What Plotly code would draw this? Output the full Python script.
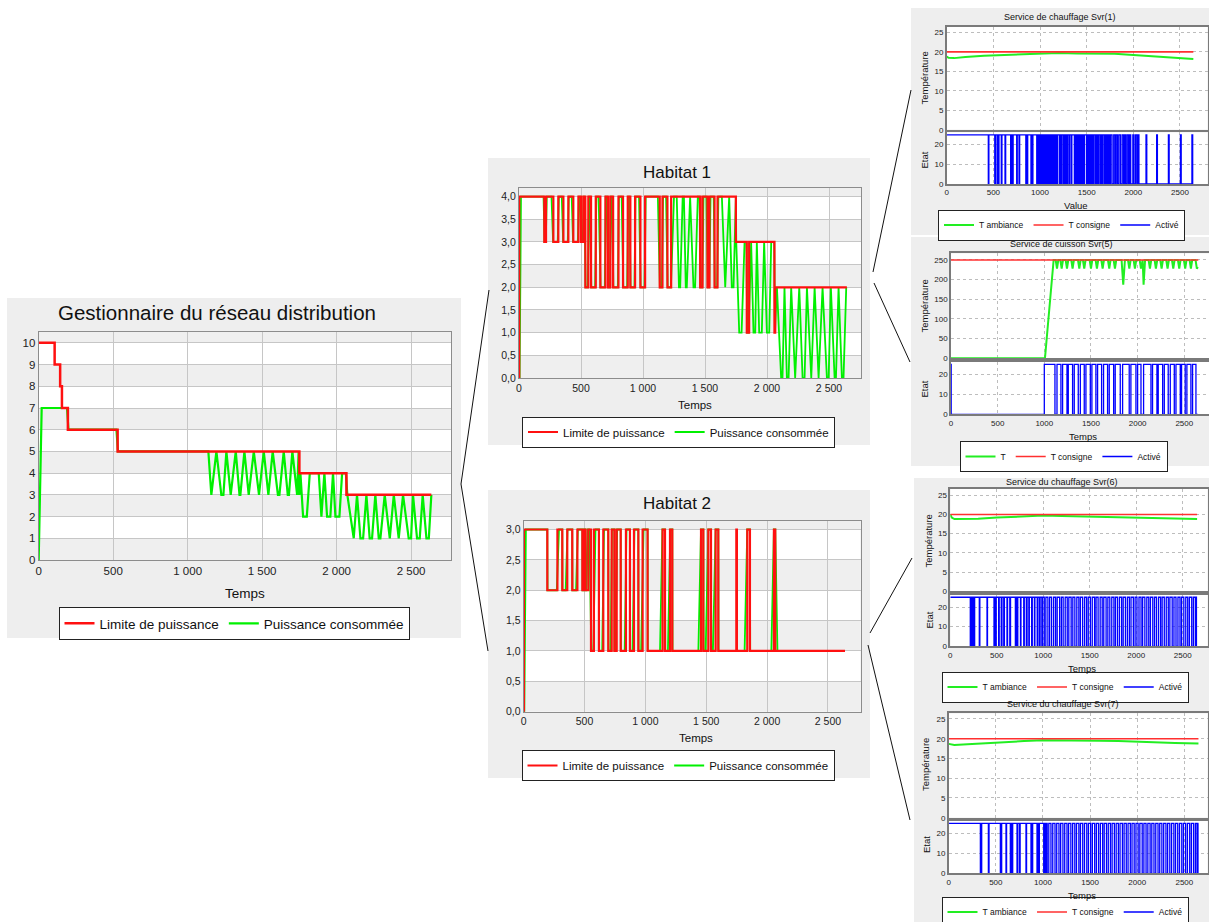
import plotly.graph_objects as go

W, H = 1209, 922
FONT = "Arial, 'Liberation Sans', sans-serif"
RED = "#ff1010"
GREEN = "#00f000"
BLUE = "#0000ff"
SRED = "#ff3030"
SGREEN = "#22ee22"

# ------------------------------------------------------------------ data
# Gestionnaire du réseau distribution
main_lim_t = [0, 107, 144, 156, 196, 530, 1750, 2066, 2636]
main_lim_v = [10, 9, 8, 7, 6, 5, 4, 3, 3]
main_cons = [(0, 0), (20, 7), (190, 7), (200, 6), (522, 6), (532, 5), (1139, 5), (1159, 3), (1193, 5),
             (1226, 3), (1240, 3), (1260, 5), (1289, 3), (1323, 5), (1348, 3), (1354, 3), (1381, 5),
             (1410, 3), (1444, 5), (1479, 3), (1511, 5), (1542, 3), (1571, 5), (1606, 3), (1616, 3),
             (1645, 5), (1672, 3), (1680, 3), (1703, 5), (1735, 3), (1745, 5), (1750, 3), (1757, 4),
             (1775, 2), (1800, 2), (1820, 4), (1880, 4), (1898, 2), (1918, 4), (1936, 2), (1958, 2),
             (1976, 4), (1992, 2), (2019, 2), (2037, 4), (2062, 4), (2072, 3), (2115, 1), (2137, 3),
             (2160, 1), (2178, 1), (2200, 3), (2222, 1), (2238, 1), (2260, 3), (2283, 1), (2294, 1),
             (2323, 3), (2357, 1), (2384, 3), (2417, 1), (2446, 3), (2484, 1), (2500, 1), (2513, 3),
             (2540, 1), (2558, 1), (2578, 3), (2603, 1), (2619, 1), (2636, 3)]

# Habitat 1
h1_lim = [(0, 0), (2, 4), (204, 3), (218, 4), (277, 3), (317, 4), (358, 3), (398, 4), (438, 3), (479, 4),
          (500, 3), (519, 4), (535, 2), (559, 4), (581, 2), (619, 4), (656, 2), (697, 4), (718, 2), (737, 4),
          (759, 2), (802, 4), (839, 2), (877, 4), (898, 2), (936, 4), (979, 2), (1017, 4), (1135, 2),
          (1157, 4), (1197, 2), (1227, 4), (1461, 2), (1480, 4), (1520, 2), (1536, 4), (1577, 2), (1601, 4),
          (1749, 3), (1837, 1), (1856, 3), (2060, 1), (2066, 2), (2644, 2)]
h1_cons = [(0, 0), (5, 0), (16, 4), (198, 4), (206, 3), (216, 3), (224, 4), (262, 4), (275, 3), (312, 3),
           (322, 4), (345, 4), (356, 3), (393, 3), (402, 4), (425, 4), (436, 3), (474, 3), (484, 4), (494, 4),
           (500, 3), (514, 3), (522, 4), (528, 4), (537, 2), (555, 2), (565, 4), (572, 4), (583, 2), (614, 2),
           (624, 4), (642, 4), (658, 2), (692, 2), (700, 4), (710, 4), (720, 2), (733, 2), (741, 4), (750, 4),
           (761, 2), (797, 2), (806, 4), (828, 4), (841, 2), (872, 2), (881, 4), (890, 4), (900, 2), (931, 2),
           (940, 4), (968, 4), (981, 2), (1012, 2), (1022, 4), (1120, 4), (1136, 2), (1152, 2), (1162, 4),
           (1186, 4), (1199, 2), (1225, 2), (1250, 4), (1272, 4), (1290, 2), (1300, 2), (1320, 4), (1330, 4),
           (1345, 2), (1353, 2), (1380, 4), (1407, 2), (1420, 2), (1442, 4), (1456, 4), (1464, 2), (1478, 2),
           (1488, 4), (1512, 4), (1522, 2), (1534, 2), (1545, 4), (1570, 4), (1579, 2), (1598, 2), (1608, 4),
           (1636, 4), (1663, 2), (1695, 4), (1716, 2), (1730, 2), (1749, 4), (1752, 3), (1776, 1), (1795, 1),
           (1819, 3), (1834, 3), (1840, 1), (1852, 1), (1872, 3), (1891, 1), (1905, 1), (1918, 3), (1937, 1),
           (1958, 1), (1977, 3), (1999, 1), (2018, 1), (2034, 3), (2058, 3), (2064, 1), (2080, 2), (2114, 0),
           (2125, 0), (2141, 2), (2160, 0), (2174, 0), (2195, 2), (2227, 0), (2260, 2), (2287, 0), (2303, 0),
           (2322, 2), (2357, 0), (2384, 2), (2416, 0), (2448, 2), (2483, 0), (2497, 0), (2515, 2), (2545, 0),
           (2556, 0), (2577, 2), (2604, 0), (2617, 0), (2639, 2)]

# Habitat 2
h2_lim = [(0, 0), (2, 3), (194, 2), (277, 3), (317, 2), (358, 3), (399, 2), (441, 3), (482, 2), (496, 3),
          (509, 2), (531, 3), (553, 1), (577, 3), (618, 1), (654, 3), (695, 1), (723, 3), (745, 1), (764, 3),
          (797, 1), (840, 3), (873, 1), (906, 3), (942, 1), (977, 3), (1018, 1), (1141, 3), (1161, 1),
          (1202, 3), (1221, 1), (1457, 3), (1476, 1), (1517, 3), (1539, 1), (1577, 3), (1599, 1), (1747, 3),
          (1752, 1), (1837, 3), (1859, 1), (2056, 3), (2067, 1), (2640, 1)]
h2_cons = [(0, 0), (5, 0), (18, 3), (194, 3), (196, 2), (272, 2), (290, 3), (317, 3), (319, 2), (345, 2),
           (360, 3), (399, 3), (401, 2), (430, 2), (445, 3), (482, 3), (484, 2), (492, 2), (497, 3), (507, 3),
           (509, 2), (515, 2), (528, 3), (540, 3), (555, 1), (572, 1), (590, 3), (618, 3), (620, 1), (645, 1),
           (660, 3), (695, 3), (697, 1), (715, 1), (725, 3), (745, 3), (747, 1), (755, 1), (768, 3), (797, 3),
           (799, 1), (830, 1), (845, 3), (873, 3), (875, 1), (895, 1), (910, 3), (942, 3), (944, 1), (965, 1),
           (985, 3), (1018, 3), (1020, 1), (1120, 1), (1140, 3), (1161, 3), (1163, 1), (1185, 1), (1205, 3),
           (1221, 3), (1223, 1), (1435, 1), (1457, 3), (1476, 3), (1478, 1), (1495, 1), (1517, 3), (1539, 3),
           (1541, 1), (1555, 1), (1577, 3), (1599, 3), (1601, 1), (1815, 1), (1837, 3), (1859, 3), (1861, 1),
           (2035, 1), (2056, 3), (2067, 3), (2085, 1), (2640, 1)]

# Services (side panels)
svr1_temp_t = [0, 20, 80, 200, 400, 600, 800, 1000, 1200, 1400, 1600, 1800, 2000, 2200, 2400, 2643]
svr1_temp_v = [18.8, 18.5, 18.4, 18.7, 19.0, 19.2, 19.4, 19.6, 19.7, 19.6, 19.6, 19.5, 19.2, 18.9, 18.6, 18.2]
svr1_cons_t = [0, 2643]
svr1_cons_v = [20, 20]
svr1_act_start = 25
svr1_act_end = 2643
svr1_act_switch = [446, 452, 515, 522, 540, 546, 555, 560, 585, 592, 625, 632, 685, 692, 705, 712, 750, 756,
                   775, 782, 848, 855, 862, 868, 903, 910, 918, 924,
                   965, 975, 985, 995, 1005, 1015, 1026, 1036, 1046, 1056, 1067, 1077, 1087, 1097, 1108, 1118,
                   1128, 1138, 1149, 1159, 1169, 1179, 1183, 1190,
                   1210, 1216, 1230, 1236, 1252, 1258, 1270, 1276, 1290, 1296, 1312, 1318, 1335, 1341, 1368, 1374,
                   1385, 1391, 1400, 1406, 1418, 1424, 1435, 1441, 1452, 1458, 1470, 1476, 1498, 1504, 1515, 1521,
                   1535, 1541, 1552, 1558, 1568, 1574, 1590, 1596, 1610, 1616, 1628, 1634, 1650, 1656, 1668, 1674,
                   1690, 1696, 1710, 1716, 1730, 1736, 1750, 1756,
                   1772, 1790, 1805, 1815, 1830, 1845, 1862, 1880, 1895, 1908, 1920, 1935, 1950, 1960, 1972,
                   1995, 2008, 2025, 2040, 2052, 2060, 2136, 2144, 2250, 2258, 2376, 2384, 2505, 2513, 2628, 2636]

svr5_temp = [(0, 0), (1007, 0), (1100, 250), (1122, 250), (1136, 228), (1150, 250), (1172, 250), (1186, 228),
             (1200, 250), (1229, 250), (1243, 228), (1257, 250), (1289, 250), (1303, 228), (1317, 250),
             (1361, 250), (1375, 228), (1389, 250), (1414, 250), (1428, 228), (1442, 250), (1486, 250),
             (1500, 228), (1514, 250), (1550, 250), (1564, 228), (1578, 250), (1611, 250), (1625, 228),
             (1639, 250), (1682, 250), (1696, 228), (1710, 250), (1743, 250), (1757, 228), (1771, 250),
             (1828, 250), (1846, 187), (1864, 250), (1897, 250), (1911, 228), (1925, 250), (1957, 250),
             (1971, 228), (1985, 250), (2022, 250), (2036, 228), (2048, 250), (2054, 250), (2064, 187),
             (2080, 250), (2118, 250), (2132, 228), (2146, 250), (2182, 250), (2196, 228), (2210, 250),
             (2243, 250), (2257, 228), (2271, 250), (2307, 250), (2321, 228), (2335, 250), (2368, 250),
             (2382, 228), (2396, 250), (2432, 250), (2446, 228), (2460, 250), (2496, 250), (2510, 228),
             (2524, 250), (2557, 250), (2571, 228), (2585, 250), (2621, 250), (2635, 228), (2645, 232)]
svr5_cons_t = [0, 2650]
svr5_cons_v = [250, 250]
svr5_act_start = 25
svr5_act_end = 2645
svr5_act_switch = [2, 1000, 1114, 1136, 1178, 1196, 1243, 1257, 1303, 1321, 1364, 1386, 1428, 1446, 1493, 1510,
                   1553, 1571, 1614, 1635, 1678, 1696, 1743, 1760, 1814, 1839, 1910, 1928, 1982, 2000, 2036, 2064,
                   2143, 2160, 2207, 2221, 2268, 2286, 2328, 2350, 2393, 2411, 2457, 2471, 2510, 2528, 2571, 2589,
                   2625]

svr6_temp_t = [0, 15, 45, 150, 300, 500, 700, 900, 1000, 1200, 1400, 1600, 1800, 2000, 2200, 2400, 2655]
svr6_temp_v = [20, 19.2, 18.8, 18.8, 18.9, 19.2, 19.4, 19.6, 19.7, 19.6, 19.5, 19.4, 19.3, 19.2, 19.0, 18.9, 18.8]
svr6_cons_t = [0, 2655]
svr6_cons_v = [20, 20]
svr6_act_start = 25
svr6_act_end = 2655
svr6_act_switch = [215, 220, 226, 231, 237, 242, 248, 253, 258, 262, 312, 318, 395, 400, 470, 476, 488, 494,
                   520, 526, 548, 556, 575, 582, 610, 616, 640, 648, 700, 706, 720, 726, 755, 760, 790, 796,
                   818, 826, 845, 850, 875, 882, 905, 910, 935, 942, 960, 966, 985, 992,
                   1011, 1028, 1050, 1069, 1090, 1112, 1133, 1150, 1176, 1195, 1214, 1236, 1258, 1275, 1300, 1318,
                   1340, 1361, 1383, 1400, 1424, 1445, 1466, 1484, 1507, 1527, 1552, 1568, 1590, 1612, 1634, 1651,
                   1676, 1695, 1716, 1737, 1760, 1777, 1799, 1820, 1843, 1860, 1884, 1905, 1926, 1944, 1969, 1988,
                   2008, 2030, 2052, 2069, 2093, 2114, 2135, 2153, 2178, 2197, 2218, 2240, 2262, 2279, 2302, 2323,
                   2345, 2362, 2387, 2406, 2428, 2449, 2471, 2488, 2512, 2533, 2554, 2572, 2597, 2615, 2636, 2648]

svr7_temp_t = [0, 60, 200, 400, 600, 800, 1000, 1200, 1400, 1600, 1800, 2000, 2200, 2400, 2650]
svr7_temp_v = [18.7, 18.4, 18.6, 18.9, 19.2, 19.4, 19.6, 19.6, 19.5, 19.5, 19.4, 19.2, 19.1, 18.9, 18.8]
svr7_cons_t = [0, 2650]
svr7_cons_v = [20, 20]
svr7_act_start = 25
svr7_act_end = 2650
svr7_act_switch = [336, 350, 421, 428, 548, 562, 608, 614, 654, 662, 672, 679, 725, 731, 750, 758, 820, 826,
                   873, 880, 885, 891, 937, 944, 955, 962, 1008, 1014, 1025, 1032,
                   1045, 1062, 1085, 1104, 1128, 1146, 1170, 1188, 1212, 1231, 1255, 1272, 1296, 1315, 1338, 1356,
                   1381, 1398, 1422, 1441, 1465, 1483, 1506, 1524, 1549, 1567, 1590, 1609, 1633, 1650, 1674, 1693,
                   1716, 1734, 1758, 1777, 1800, 1818, 1843, 1861, 1884, 1903, 1927, 1945, 1968, 1987, 2010, 2028,
                   2053, 2071, 2094, 2113, 2137, 2155, 2178, 2197, 2221, 2239, 2262, 2281, 2305, 2323, 2346, 2365,
                   2389, 2407, 2430, 2449, 2473, 2491, 2514, 2533, 2557, 2575, 2598, 2617, 2634, 2645]

svr_on = 25


# ------------------------------------------------------------------ helpers
def X(p):
    return p / W


def Y(p):
    return 1 - p / H


def unzip(pairs):
    return [a for a, _ in pairs], [b for _, b in pairs]


def toggles(start, switches, end):
    xs, ys, v = [0], [start], start
    for t in switches:
        v = (svr_on - v)
        xs.append(t)
        ys.append(v)
    xs.append(end)
    ys.append(v)
    return xs, ys


fig = go.Figure()

# main
mx, my = unzip(main_cons)
fig.add_trace(go.Scatter(x=mx, y=my, mode="lines", name="Puissance consommée", legend="legend", legendrank=2,
                         line=dict(color=GREEN, width=2.2), xaxis="x", yaxis="y"))
fig.add_trace(go.Scatter(x=main_lim_t, y=main_lim_v, mode="lines", name="Limite de puissance", legend="legend",
                         legendrank=1, line=dict(color=RED, width=2.5, shape="hv"), xaxis="x", yaxis="y"))
# H1
for pairs, nm, col, shp, rank, lw in [(h1_cons, "Puissance consommée", GREEN, "linear", 2, 1.8),
                                      (h1_lim, "Limite de puissance", RED, "hv", 1, 2.2)]:
    a, b = unzip(pairs)
    fig.add_trace(go.Scatter(x=a, y=b, mode="lines", name=nm, legend="legend2", legendrank=rank,
                             line=dict(color=col, width=lw, shape=shp), xaxis="x2", yaxis="y2"))
# H2
for pairs, nm, col, shp, rank, lw in [(h2_cons, "Puissance consommée", GREEN, "linear", 2, 1.8),
                                      (h2_lim, "Limite de puissance", RED, "hv", 1, 2.2)]:
    a, b = unzip(pairs)
    fig.add_trace(go.Scatter(x=a, y=b, mode="lines", name=nm, legend="legend3", legendrank=rank,
                             line=dict(color=col, width=lw, shape=shp), xaxis="x3", yaxis="y3"))

# side panels
s5x, s5y = unzip(svr5_temp)
side = [
    ("legend4", "x4", "y4", "x5", "y5", "T ambiance", svr1_temp_t, svr1_temp_v, svr1_cons_t, svr1_cons_v,
     toggles(svr1_act_start, svr1_act_switch, svr1_act_end)),
    ("legend5", "x6", "y6", "x7", "y7", "T", s5x, s5y, svr5_cons_t, svr5_cons_v,
     toggles(svr5_act_start, svr5_act_switch, svr5_act_end)),
    ("legend6", "x8", "y8", "x9", "y9", "T ambiance", svr6_temp_t, svr6_temp_v, svr6_cons_t, svr6_cons_v,
     toggles(svr6_act_start, svr6_act_switch, svr6_act_end)),
    ("legend7", "x10", "y10", "x11", "y11", "T ambiance", svr7_temp_t, svr7_temp_v, svr7_cons_t, svr7_cons_v,
     toggles(svr7_act_start, svr7_act_switch, svr7_act_end)),
]
for lg, xa, ya, xb, yb, tname, tt, tv, ct, cv, (ax_, ay_) in side:
    fig.add_trace(go.Scatter(x=tt, y=tv, mode="lines", name=tname, legend=lg, legendrank=1,
                             line=dict(color=SGREEN, width=2), xaxis=xa, yaxis=ya))
    fig.add_trace(go.Scatter(x=ct, y=cv, mode="lines", name="T consigne", legend=lg, legendrank=2,
                             line=dict(color=SRED, width=1.6), xaxis=xa, yaxis=ya))
    fig.add_trace(go.Scatter(x=ax_, y=ay_, mode="lines", name="Activé", legend=lg, legendrank=3,
                             line=dict(color=BLUE, width=1.3, shape="hv"), xaxis=xb, yaxis=yb))


# ------------------------------------------------------------------ axes
def axis(dom, rng, anchor, tickfont=11, **kw):
    d = dict(domain=dom, range=rng, anchor=anchor, showline=True, mirror=True, linecolor="#8c8c8c",
             linewidth=1.2, zeroline=False, ticks="", fixedrange=True, showgrid=True, gridcolor="#c6c6c6",
             gridwidth=1, tickfont=dict(family=FONT, size=tickfont, color="#222"))
    d.update(kw)
    return d


lay = {}
lay["xaxis"] = axis([X(38.7), X(451)], [0, 2768], "y", 11.5, dtick=500, tick0=0, separatethousands=True)
lay["yaxis"] = axis([Y(560), Y(332)], [0, 10.5], "x", 11.5, dtick=1, tick0=0)
lay["xaxis2"] = axis([X(519), X(861)], [0, 2758], "y2", 10.5, dtick=500, tick0=0, separatethousands=True)
lay["yaxis2"] = axis([Y(378), Y(188)], [0, 4.19], "x2", 10.5, dtick=0.5, tick0=0, tickformat=".1f")
lay["xaxis3"] = axis([X(523.7), X(860.7)], [0, 2769], "y3", 10.5, dtick=500, tick0=0, separatethousands=True)
lay["yaxis3"] = axis([Y(711.7), Y(521)], [0, 3.14], "x3", 10.5, dtick=0.5, tick0=0, tickformat=".1f")

side_geo = [
    (4, [946.7, 1207.7], [27, 129.7], [132.3, 184], 2797),
    (6, [951, 1209], [253.3, 358.3], [361.7, 414.3], 2765),
    (8, [950.3, 1207.7], [488.7, 591.3], [594.7, 646.3], 2769),
    (10, [948.7, 1207.7], [713.3, 817.7], [820.7, 873.3], 2748),
]
top_ranges = {4: [0, 26.4], 6: [0, 267], 8: [0, 26.7], 10: [0, 26.44]}
top_dticks = {4: 5, 6: 50, 8: 5, 10: 5}
sdict = dict(griddash="dot", gridcolor="#bdbdbd", linecolor="#7a7a7a", linewidth=1.5)
for n, xd, yt, yb, xmax in side_geo:
    xdom = [X(xd[0]), min(1.0, X(xd[1]))]
    lay[f"xaxis{n}"] = axis(xdom, [0, xmax], f"y{n}", 8, dtick=500, tick0=0, showticklabels=False, **sdict)
    lay[f"yaxis{n}"] = axis([Y(yt[1]), Y(yt[0])], top_ranges[n], f"x{n}", 8, dtick=top_dticks[n], tick0=0,
                            **sdict)
    lay[f"xaxis{n+1}"] = axis(xdom, [0, xmax], f"y{n+1}", 8, dtick=500, tick0=0, **sdict)
    lay[f"yaxis{n+1}"] = axis([Y(yb[1]), Y(yb[0])], [0, 26.3], f"x{n+1}", 8, dtick=10, tick0=0, **sdict)

# ------------------------------------------------------------------ shapes
shapes = []
PANEL = "#eeeeee"
for x0, y0, x1, y1 in [(7, 298, 461, 638), (488, 158, 870, 445), (488, 490, 870, 778), (911, 8, 1209, 235),
                       (911, 237, 1209, 466), (914, 478, 1209, 695), (914, 695, 1209, 922)]:
    shapes.append(dict(type="rect", xref="paper", yref="paper", x0=X(x0), x1=X(x1), y0=Y(y1), y1=Y(y0),
                       fillcolor=PANEL, line=dict(width=0), layer="below"))

band_specs = [("x", "y", 2768, 10.5, [(0, 1), (2, 3), (4, 5), (6, 7), (8, 9), (10, 10.5)]),
              ("x2", "y2", 2758, 4.19, [(0, 0.5), (1, 1.5), (2, 2.5), (3, 3.5), (4, 4.19)]),
              ("x3", "y3", 2769, 3.14, [(0, 0.5), (1, 1.5), (2, 2.5), (3, 3.14)])]
for xr, yr, xm, ym, bands in band_specs:
    shapes.append(dict(type="rect", xref=xr, yref=yr, x0=0, x1=xm, y0=0, y1=ym, fillcolor="white",
                       line=dict(width=0), layer="below"))
    for b0, b1 in bands:
        shapes.append(dict(type="rect", xref=xr, yref=yr, x0=0, x1=xm, y0=b0, y1=b1, fillcolor="#efefef",
                           line=dict(width=0), layer="below"))
for n, xd, yt, yb, xmax in side_geo:
    shapes.append(dict(type="rect", xref=f"x{n}", yref=f"y{n}", x0=0, x1=xmax, y0=0, y1=top_ranges[n][1],
                       fillcolor="white", line=dict(width=0), layer="below"))
    shapes.append(dict(type="rect", xref=f"x{n+1}", yref=f"y{n+1}", x0=0, x1=xmax, y0=0, y1=26.3,
                       fillcolor="white", line=dict(width=0), layer="below"))

for (x0, y0), (x1, y1) in [((461, 484), (489, 290)), ((461, 484), (488, 651)), ((873, 272), (911, 90)),
                           ((874, 283), (910, 362)), ((870, 633), (912, 558)), ((868, 645), (910, 820))]:
    shapes.append(dict(type="line", xref="paper", yref="paper", x0=X(x0), y0=Y(y0), x1=X(x1), y1=Y(y1),
                       line=dict(color="#111", width=1)))

# ------------------------------------------------------------------ annotations
ann = []


def text(t, x, y, size, angle=0, color="#111"):
    ann.append(dict(text=t, x=X(x), y=Y(y), xref="paper", yref="paper", showarrow=False, textangle=angle,
                    xanchor="center", yanchor="middle", font=dict(family=FONT, size=size, color=color)))


text("Gestionnaire du réseau distribution", 217, 313, 20.5)
text("Temps", 245, 593, 13.5)
text("Habitat 1", 677, 172, 17)
text("Temps", 695, 405, 11.5)
text("Habitat 2", 677, 504, 17)
text("Temps", 696, 738, 11.5)
text("Service de chauffage Svr(1)", 1059, 17, 9)
text("Température", 923.5, 78, 9.5, -90)
text("Etat", 923.5, 160, 9.5, -90)
text("Value", 1076, 205, 9.5)
text("Service de cuisson Svr(5)", 1061, 244, 9)
text("Température", 923.5, 306, 9.5, -90)
text("Etat", 923.5, 389, 9.5, -90)
text("Temps", 1083, 436, 9.5)
text("Service du chauffage Svr(6)", 1061, 482, 9)
text("Température", 927.5, 541, 9.5, -90)
text("Etat", 928.5, 620, 9.5, -90)
text("Temps", 1082, 668, 9.5)
text("Service du chauffage Svr(7)", 1062, 704, 9)
text("Température", 925, 765, 9.5, -90)
text("Etat", 926, 845, 9.5, -90)
text("Temps", 1082, 895, 9.5)


# ------------------------------------------------------------------ legends
def legend(cx, cy, size):
    return dict(orientation="h", x=X(cx), y=Y(cy), xanchor="center", yanchor="middle", bgcolor="white",
                bordercolor="#222", borderwidth=1, font=dict(family=FONT, size=size, color="#111"),
                itemwidth=30, traceorder="normal", tracegroupgap=0)


lay["legend"] = legend(234, 623.5, 13.5)
lay["legend2"] = legend(678.5, 432, 11.5)
lay["legend3"] = legend(678, 765.5, 11.5)
lay["legend4"] = legend(1061.5, 225, 8.5)
lay["legend5"] = legend(1063.5, 456.5, 8.5)
lay["legend6"] = legend(1065, 687, 8.5)
lay["legend7"] = legend(1065, 912, 8.5)

fig.update_layout(width=W, height=H, autosize=False, margin=dict(l=0, r=0, t=0, b=0, autoexpand=False),
                  paper_bgcolor="white", plot_bgcolor="rgba(0,0,0,0)", separators=", ",
                  font=dict(family=FONT, color="#111"), shapes=shapes, annotations=ann, showlegend=True,
                  **lay)

fig.write_html("out.html", config={"displayModeBar": False},
               post_script="document.body.style.margin='0px';")
